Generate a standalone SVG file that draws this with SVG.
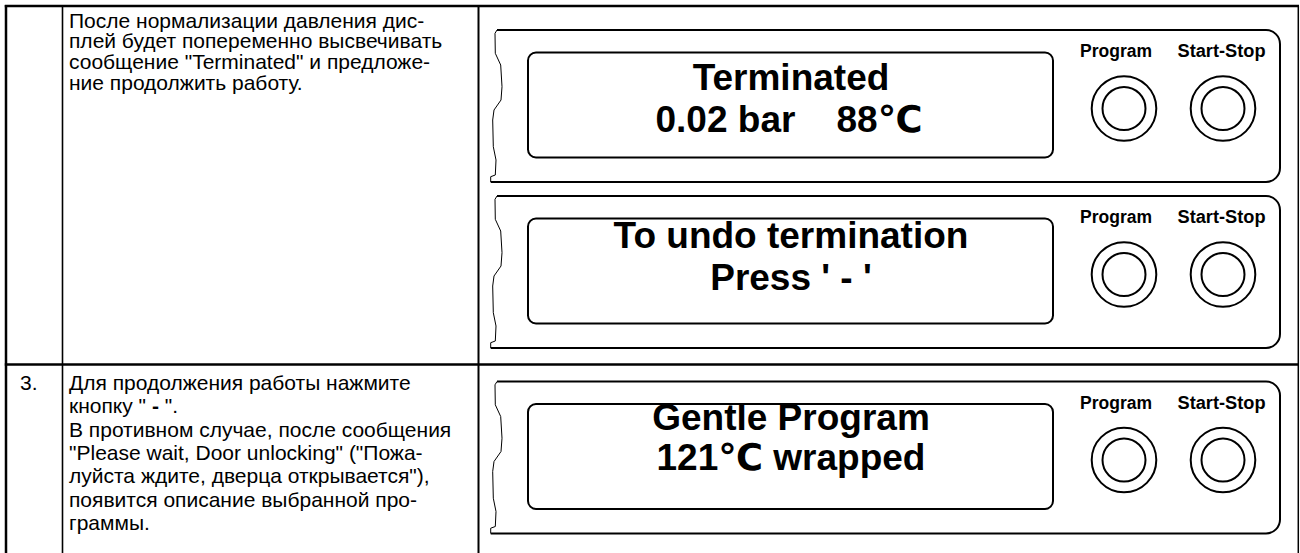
<svg xmlns="http://www.w3.org/2000/svg" width="1300" height="553" viewBox="0 0 1300 553">
  <style>
    .rule { stroke: #000; fill: none; }
    .body { font-family: "Liberation Sans", Arial, sans-serif; font-size: 21px; fill: #000; white-space: pre; }
    .lcd { font-family: "Liberation Sans", Arial, "DejaVu Sans", sans-serif; font-size: 37px; font-weight: bold; fill: #000; text-anchor: middle; white-space: pre; }
    .key { font-family: "Liberation Sans", Arial, sans-serif; font-size: 17.5px; font-weight: bold; fill: #000; text-anchor: middle; }
    .frame { stroke: #000; stroke-width: 2; fill: none; }
    .edge { stroke: #000; stroke-width: 1; fill: none; }
  </style>
  <defs>
    <!-- control panel drawn with its top edge at y = 0 -->
    <g id="panel">
      <path class="frame" d="M497 0 H1266 A14 14 0 0 1 1280 14 V138 A14 14 0 0 1 1266 152 H490.7"/>
      <path class="edge" d="M497 0 L495 3.3 L495.3 23.3 L500.7 35 L502 56.7 L501 70 L494 80 L492.7 90 L493.3 116.7 L496 130 L495.3 145 L490.7 146.7 L490.7 152"/>
      <rect class="frame" x="528" y="22.5" width="525" height="105" rx="8"/>
      <circle class="frame" cx="1124" cy="78.5" r="32.3"/>
      <circle class="frame" cx="1124" cy="78.5" r="21.5"/>
      <circle class="frame" cx="1223" cy="78.5" r="32.3"/>
      <circle class="frame" cx="1223" cy="78.5" r="21.5"/>
      <text class="key" x="1116" y="27">Program</text>
      <text class="key" x="1221.5" y="27" textLength="88" lengthAdjust="spacingAndGlyphs">Start-Stop</text>
    </g>
  </defs>

  <!-- table grid -->
  <g id="table">
    <line class="rule" x1="4.8" y1="6" x2="1299" y2="6" stroke-width="2.5"/>
    <line class="rule" x1="6" y1="5" x2="6" y2="553" stroke-width="2.5"/>
    <line class="rule" x1="62.5" y1="6" x2="62.5" y2="553" stroke-width="1.6"/>
    <line class="rule" x1="478.5" y1="6" x2="478.5" y2="553" stroke-width="2"/>
    <line class="rule" x1="1298.3" y1="6" x2="1298.3" y2="553" stroke-width="1.5"/>
    <line class="rule" x1="4.8" y1="364.5" x2="1299" y2="364.5" stroke-width="2.5"/>
  </g>

  <!-- step descriptions -->
  <g id="row1-text" class="body">
    <text x="69" y="27.5">После нормализации давления дис-</text>
    <text x="69" y="48.3">плей будет попеременно высвечивать</text>
    <text x="69" y="69.1">сообщение "Terminated" и предложе-</text>
    <text x="69" y="89.9">ние продолжить работу.</text>
  </g>
  <g id="row2-text" class="body">
    <text x="20" y="390">3.</text>
    <text x="69" y="390">Для продолжения работы нажмите</text>
    <text x="69" y="413.3">кнопку  " <tspan font-weight="bold">-</tspan> ".</text>
    <text x="69" y="436.6">В противном случае, после сообщения</text>
    <text x="69" y="459.9">"Please wait, Door unlocking" ("Пожа-</text>
    <text x="69" y="483.2">луйста ждите, дверца открывается"),</text>
    <text x="69" y="506.5">появится описание выбранной про-</text>
    <text x="69" y="529.8">граммы.</text>
  </g>

  <!-- display panels -->
  <g id="panel-terminated">
    <use href="#panel" transform="translate(0,30)"/>
    <text class="lcd" x="791" y="90">Terminated</text>
    <text class="lcd" x="789" y="132">0.02 bar    88℃</text>
  </g>
  <g id="panel-undo">
    <use href="#panel" transform="translate(0,196)"/>
    <text class="lcd" x="791" y="248.3">To undo termination</text>
    <text class="lcd" x="791" y="290">Press ' - '</text>
  </g>
  <g id="panel-gentle">
    <use href="#panel" transform="translate(0,381.5)"/>
    <text class="lcd" x="791" y="430">Gentle Program</text>
    <text class="lcd" x="791" y="470">121℃ wrapped</text>
  </g>
</svg>
